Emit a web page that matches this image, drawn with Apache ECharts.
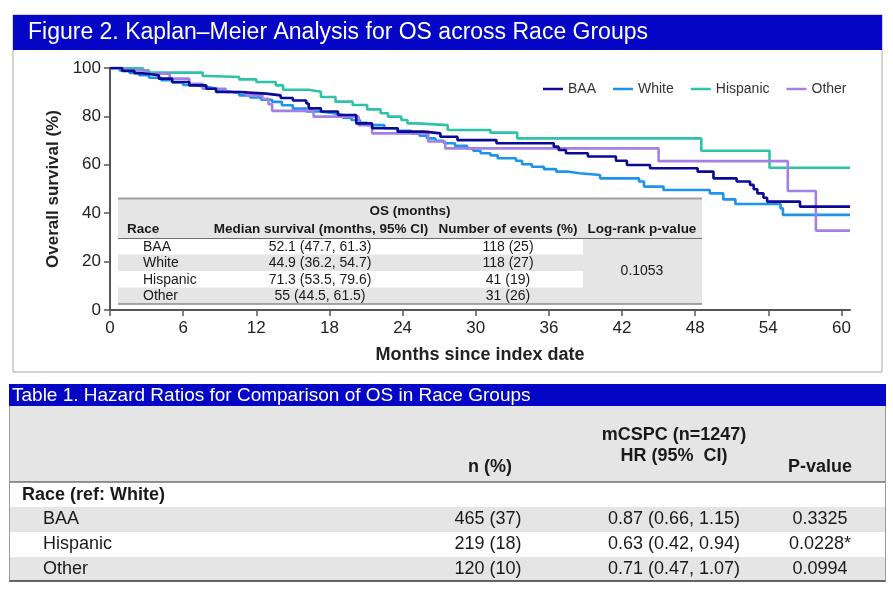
<!DOCTYPE html>
<html>
<head>
<meta charset="utf-8">
<script src="https://cdn.jsdelivr.net/npm/echarts@6/dist/echarts.min.js"></script>
<style>
html,body{margin:0;padding:0;background:#fff;}
#main{width:893px;height:590px;}
</style>
</head>
<body>
<div id="main"></div>
<script>
// ---------- DATA ----------
const figureTitle = 'Figure 2. Kaplan\u2013Meier Analysis for OS across Race Groups';
const tableTitle = 'Table 1. Hazard Ratios for Comparison of OS in Race Groups';
const groups = ['BAA', 'White', 'Hispanic', 'Other'];
const xTicks = [0, 6, 12, 18, 24, 30, 36, 42, 48, 54, 60];
const xMaxMonth = 60.7;
const yTicks = [0, 20, 40, 60, 80, 100];

const baaKM = [[0,100],[1.0,98.8],[2.0,97.8],[2.7,97.0],[4.0,95.6],[5.1,94.2],[6.5,92.8],[7.9,91.4],[8.7,90.1],[10.6,89.4],[12.8,88.7],[14.0,87.6],[15.0,86.6],[16.1,85.3],[16.3,83.3],[17.3,82.0],[18.7,80.6],[20.2,77.1],[21.5,75.1],[23.6,73.7],[25.8,73.0],[27.1,71.6],[28.5,70.2],[31.7,68.9],[36.4,67.5],[36.8,66.1],[37.4,64.8],[39.2,63.4],[41.5,61.7],[42.4,59.9],[44.3,58.6],[48.2,57.2],[49.5,54.4],[51.4,53.1],[52.5,51.7],[52.8,49.9],[53.1,48.2],[53.6,46.4],[53.9,44.8],[56.6,42.7],[60.7,42.7]];
const whiteKM = [[0,100],[0.8,99.0],[1.6,98.0],[2.4,97.0],[3.2,96.0],[4.2,95.0],[5.1,94.0],[6.0,93.0],[6.9,92.2],[7.9,91.4],[8.8,90.4],[9.7,89.6],[10.6,88.7],[11.5,87.8],[12.4,86.9],[13.3,86.0],[14.1,84.6],[15.0,83.2],[16.1,82.0],[17.2,81.3],[18.4,80.6],[19.1,79.5],[19.8,78.5],[20.5,77.4],[21.1,76.4],[22.5,75.1],[23.6,74.0],[24.7,73.0],[25.4,72.0],[26.0,70.9],[26.7,69.9],[27.4,68.9],[28.3,67.8],[29.3,66.8],[29.8,65.8],[30.4,64.8],[31.2,63.9],[31.8,62.7],[33.3,61.7],[33.8,60.2],[34.6,59.2],[35.6,58.2],[36.6,57.2],[37.5,56.5],[38.5,55.8],[40.2,54.4],[43.4,53.1],[43.8,51.0],[45.4,49.6],[49.2,48.2],[50.3,45.7],[51.3,43.8],[55.0,42.0],[55.2,39.3],[60.7,39.3]];
const hispanicKM = [[0,100],[2.7,99.0],[3.2,98.1],[7.6,96.7],[8.1,96.3],[10.6,95.3],[12.0,94.2],[13.6,92.8],[14.2,91.0],[16.3,90.2],[17.3,88.0],[18.5,86.1],[19.9,84.7],[21.1,82.9],[22.2,81.3],[22.8,79.9],[23.9,78.5],[24.4,77.1],[25.2,76.4],[27.7,74.4],[31.2,73.3],[33.4,70.9],[48.5,65.8],[54.1,58.8],[60.7,58.8]];
const otherKM = [[0,100],[1.2,99.0],[3.0,97.6],[4.9,95.6],[6.5,93.5],[7.6,91.4],[9.5,90.1],[11.2,88.7],[12.5,87.3],[13.0,85.0],[13.3,82.3],[16.7,79.9],[20.4,76.4],[21.5,73.0],[26.1,69.6],[27.5,66.8],[45.0,61.5],[55.6,49.2],[57.9,32.8],[60.7,32.8]];

// inset table (OS months)
const insetRaces = ['BAA', 'White', 'Hispanic', 'Other'];
const insetMedian = ['52.1 (47.7, 61.3)', '44.9 (36.2, 54.7)', '71.3 (53.5, 79.6)', '55 (44.5, 61.5)'];
const insetEvents = ['118 (25)', '118 (27)', '41 (19)', '31 (26)'];
const insetLogRank = '0.1053';
const insetHeaders = ['Race', 'Median survival (months, 95% CI)', 'Number of events (%)', 'Log-rank p-value'];

// Table 1
const hrRaces = ['BAA', 'Hispanic', 'Other'];
const hrN = ['465 (37)', '219 (18)', '120 (10)'];
const hrCI = ['0.87 (0.66, 1.15)', '0.63 (0.42, 0.94)', '0.71 (0.47, 1.07)'];
const hrP = ['0.3325', '0.0228*', '0.0994'];

// ---------- STYLE ----------
const colors = ['#0A0A96', '#1E93EA', '#2EC2A8', '#A47FE6'];
const FONT = '"Liberation Sans", Arial, sans-serif';
const BLUE = '#0606C6';
const GRAY = '#E5E5E5';

const chart = echarts.init(document.getElementById('main'), null, {renderer: 'canvas'});

const g = [];
function rect(x, y, w, h, fill, extra) { g.push(Object.assign({type:'rect', shape:{x, y, width:w, height:h}, style:{fill}, silent:true}, extra || {})); }
function line(x1, y1, x2, y2, stroke, lw) { g.push({type:'line', shape:{x1, y1, x2, y2}, style:{stroke, lineWidth:lw}, silent:true, z:5}); }
function text(t, x, y, size, opts) {
  opts = opts || {};
  g.push({type:'text', x, y, silent:true, z:6, style:{text:t, font:(opts.bold?'bold ':'') + size + 'px ' + FONT, fill:opts.fill || '#1a1a1a', align:opts.align || 'left', verticalAlign:'middle'}});
}

// Figure panel
rect(13, 15, 869, 357, 'rgba(0,0,0,0)', {style:{fill:'none', stroke:'#A8A8A8', lineWidth:1}});
rect(13, 15, 869, 35, BLUE);
text(figureTitle, 28, 32.5, 23, {fill:'#fff'});

// inset table
const ix0 = 118, ix1 = 702, ixW = 583;
rect(ix0, 198, ix1 - ix0, 106, GRAY);
line(ix0, 198.5, ix1, 198.5, '#A0A0A0', 2);
const rowTops = [239, 254.5, 271, 287.5, 303.5];
rect(ix0, rowTops[0], ixW - ix0, rowTops[1] - rowTops[0], '#fff');
rect(ix0, rowTops[2], ixW - ix0, rowTops[3] - rowTops[2], '#fff');
line(ix0, 238.5, ix1, 238.5, '#6E6E6E', 1);
line(ix0, 304, ix1, 304, '#8A8A8A', 1.5);
text('OS (months)', 410, 211, 13.5, {bold:true, align:'center'});
const insetCols = [127, 321, 508, 642];
text(insetHeaders[0], insetCols[0], 229, 13.5, {bold:true});
for (let i = 1; i < 4; i++) text(insetHeaders[i], insetCols[i], 229, 13.5, {bold:true, align:'center'});
for (let i = 0; i < insetRaces.length; i++) {
  const cy = (rowTops[i] + rowTops[i + 1]) / 2 + 0.5;
  text(insetRaces[i], 143, cy, 14);
  text(insetMedian[i], 320, cy, 14, {align:'center'});
  text(insetEvents[i], 508, cy, 14, {align:'center'});
}
text(insetLogRank, 642, 271, 14, {align:'center'});

// Table 1
const tx0 = 9, tx1 = 886;
rect(tx0, 384, tx1 - tx0, 22, BLUE);
text(tableTitle, 12, 395.5, 19, {fill:'#fff'});
rect(tx0, 406, tx1 - tx0, 76, GRAY);
const tRows = [482, 507, 532, 557, 581];
rect(tx0, tRows[1], tx1 - tx0, 25, GRAY);
rect(tx0, tRows[3], tx1 - tx0, 24, GRAY);
line(tx0, 482, tx1, 482, '#333', 1.2);
line(tx0, 581, tx1, 581, '#333', 1.5);
line(tx0 + 0.5, 406, tx0 + 0.5, 581, '#9A9A9A', 1);
line(tx1 - 0.5, 406, tx1 - 0.5, 581, '#9A9A9A', 1);
const tCols = [488, 674, 820];
text('mCSPC (n=1247)', tCols[1], 435, 18, {bold:true, align:'center'});
text('HR (95%  CI)', tCols[1], 456, 18, {bold:true, align:'center'});
text('n (%)', tCols[0] + 2, 467, 18, {bold:true, align:'center'});
text('P-value', tCols[2], 467, 18, {bold:true, align:'center'});
text('Race (ref: White)', 22, 495, 18, {bold:true});
for (let i = 0; i < hrRaces.length; i++) {
  const cy = (tRows[i + 1] + tRows[i + 2]) / 2;
  text(hrRaces[i], 43, cy, 18);
  text(hrN[i], tCols[0], cy, 18, {align:'center'});
  text(hrCI[i], tCols[1], cy, 18, {align:'center'});
  text(hrP[i], tCols[2], cy, 18, {align:'center'});
}

const kmData = [baaKM, whiteKM, hispanicKM, otherKM];
const series = groups.map((name, i) => ({
  name, type:'line', step:'end', data:kmData[i], symbol:'none', showSymbol:false,
  lineStyle:{color:colors[i], width:2.6}, itemStyle:{color:colors[i]}, z:3 + (i === 0 ? 1 : 0), animation:false
}));

chart.setOption({
  animation:false,
  textStyle:{fontFamily:FONT},
  grid:{left:110, right:43, top:68, bottom:280, containLabel:false},
  legend:{
    data:groups, left:538, top:77, itemWidth:20, itemHeight:10, itemGap:17,
    icon:'path://M0,4 L20,4 L20,6.5 L0,6.5 Z',
    textStyle:{fontSize:14, color:'#333', fontFamily:FONT}
  },
  xAxis:{
    type:'value', min:0, max:xMaxMonth, interval:6,
    name:'Months since index date', nameLocation:'middle', nameGap:36,
    nameTextStyle:{fontSize:18, fontWeight:'bold', color:'#222', fontFamily:FONT},
    axisLine:{lineStyle:{color:'#555', width:2}},
    axisTick:{show:true, length:6, lineStyle:{color:'#555', width:1.5}, customValues:xTicks},
    axisLabel:{fontSize:17, color:'#222', margin:10, customValues:xTicks, fontFamily:FONT},
    splitLine:{show:false}
  },
  yAxis:{
    type:'value', min:0, max:100, interval:20,
    name:'Overall survival (%)', nameLocation:'middle', nameGap:33,
    nameTextStyle:{fontSize:17, fontWeight:'bold', color:'#222', fontFamily:FONT},
    axisLine:{show:true, lineStyle:{color:'#555', width:2}},
    axisTick:{show:true, length:6, lineStyle:{color:'#555', width:1.5}},
    axisLabel:{fontSize:17, color:'#222', margin:9, fontFamily:FONT},
    splitLine:{show:false}
  },
  graphic:{elements:g},
  series
});
</script>
</body>
</html>
